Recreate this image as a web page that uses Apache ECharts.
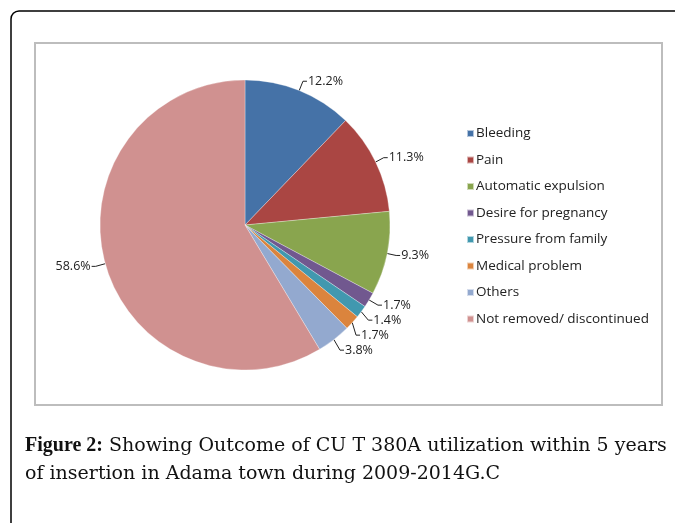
<!DOCTYPE html>
<html>
<head>
<meta charset="utf-8">
<script src="https://cdn.jsdelivr.net/npm/echarts@6/dist/echarts.min.js"></script>
<style>
html,body{margin:0;padding:0;background:#fff;}
#chart{width:675px;height:523px;}
</style>
</head>
<body>
<div id="chart"></div>
<script>
const categories = ["Bleeding","Pain","Automatic expulsion","Desire for pregnancy","Pressure from family","Medical problem","Others","Not removed/ discontinued"];
const values = [12.2, 11.3, 9.3, 1.7, 1.4, 1.7, 3.8, 58.6];
const colors = ["#4572A7","#AA4643","#89A54E","#71588F","#4198AF","#DB843D","#93A9CF","#D09190"];
const captionLine1 = "Showing Outcome of CU T 380A utilization within 5 years";
const captionLine2 = "of insertion in Adama town during 2009-2014G.C";

const chart = echarts.init(document.getElementById('chart'), null, {renderer:'canvas'});
const option = {
  backgroundColor: '#fff',
  animation: false,
  color: colors,
  legend: {
    orient: 'vertical',
    left: 461,
    top: 121,
    icon: 'rect',
    itemWidth: 7,
    itemHeight: 7,
    itemGap: 11.5,
    textStyle: {fontFamily: '"Open Sans", sans-serif', fontSize: 13.5, color: '#222', lineHeight: 15, padding:[0,0,0,-3]},
    data: categories
  },
  graphic: [
    {type:'rect', shape:{x:11, y:11, width:720, height:560, r:8}, style:{fill:'none', stroke:'#000', lineWidth:1.5}, z:-10},
    {type:'rect', shape:{x:35, y:43, width:627, height:362}, style:{fill:'#fff', stroke:'#bdbdbd', lineWidth:2}, z:-9},
    {type:'text', left:25, top:432, style:{
      text: '{b|Figure 2:} ' + captionLine1 + '\n' + captionLine2,
      font: '19px "DejaVu Serif"',
      fill: '#111',
      lineHeight: 28,
      rich: {b: {fontWeight:'bold', fontFamily:'"Liberation Serif"', fontSize:20, fill:'#111'}}
    }}
  ],
  series: [{
    type: 'pie',
    center: [245, 225],
    radius: 145,
    startAngle: 90,
    clockwise: true,
    data: categories.map((c,i)=>({name:c, value:values[i]})),
    itemStyle: {borderColor:'rgba(255,255,255,0.6)', borderWidth:0.5},
    label: {
      show: true,
      position: 'outside',
      formatter: p => p.value.toFixed(1) + '%',
      fontFamily: '"Open Sans", sans-serif',
      fontSize: 12.5,
      color: '#222',
      distanceToLabelLine: 1
    },
    labelLine: {show:true, length: 10, length2: 4, lineStyle:{color:'#222', width:1}},
    emphasis: {disabled:true}
  }]
};
chart.setOption(option);
</script>
</body>
</html>
